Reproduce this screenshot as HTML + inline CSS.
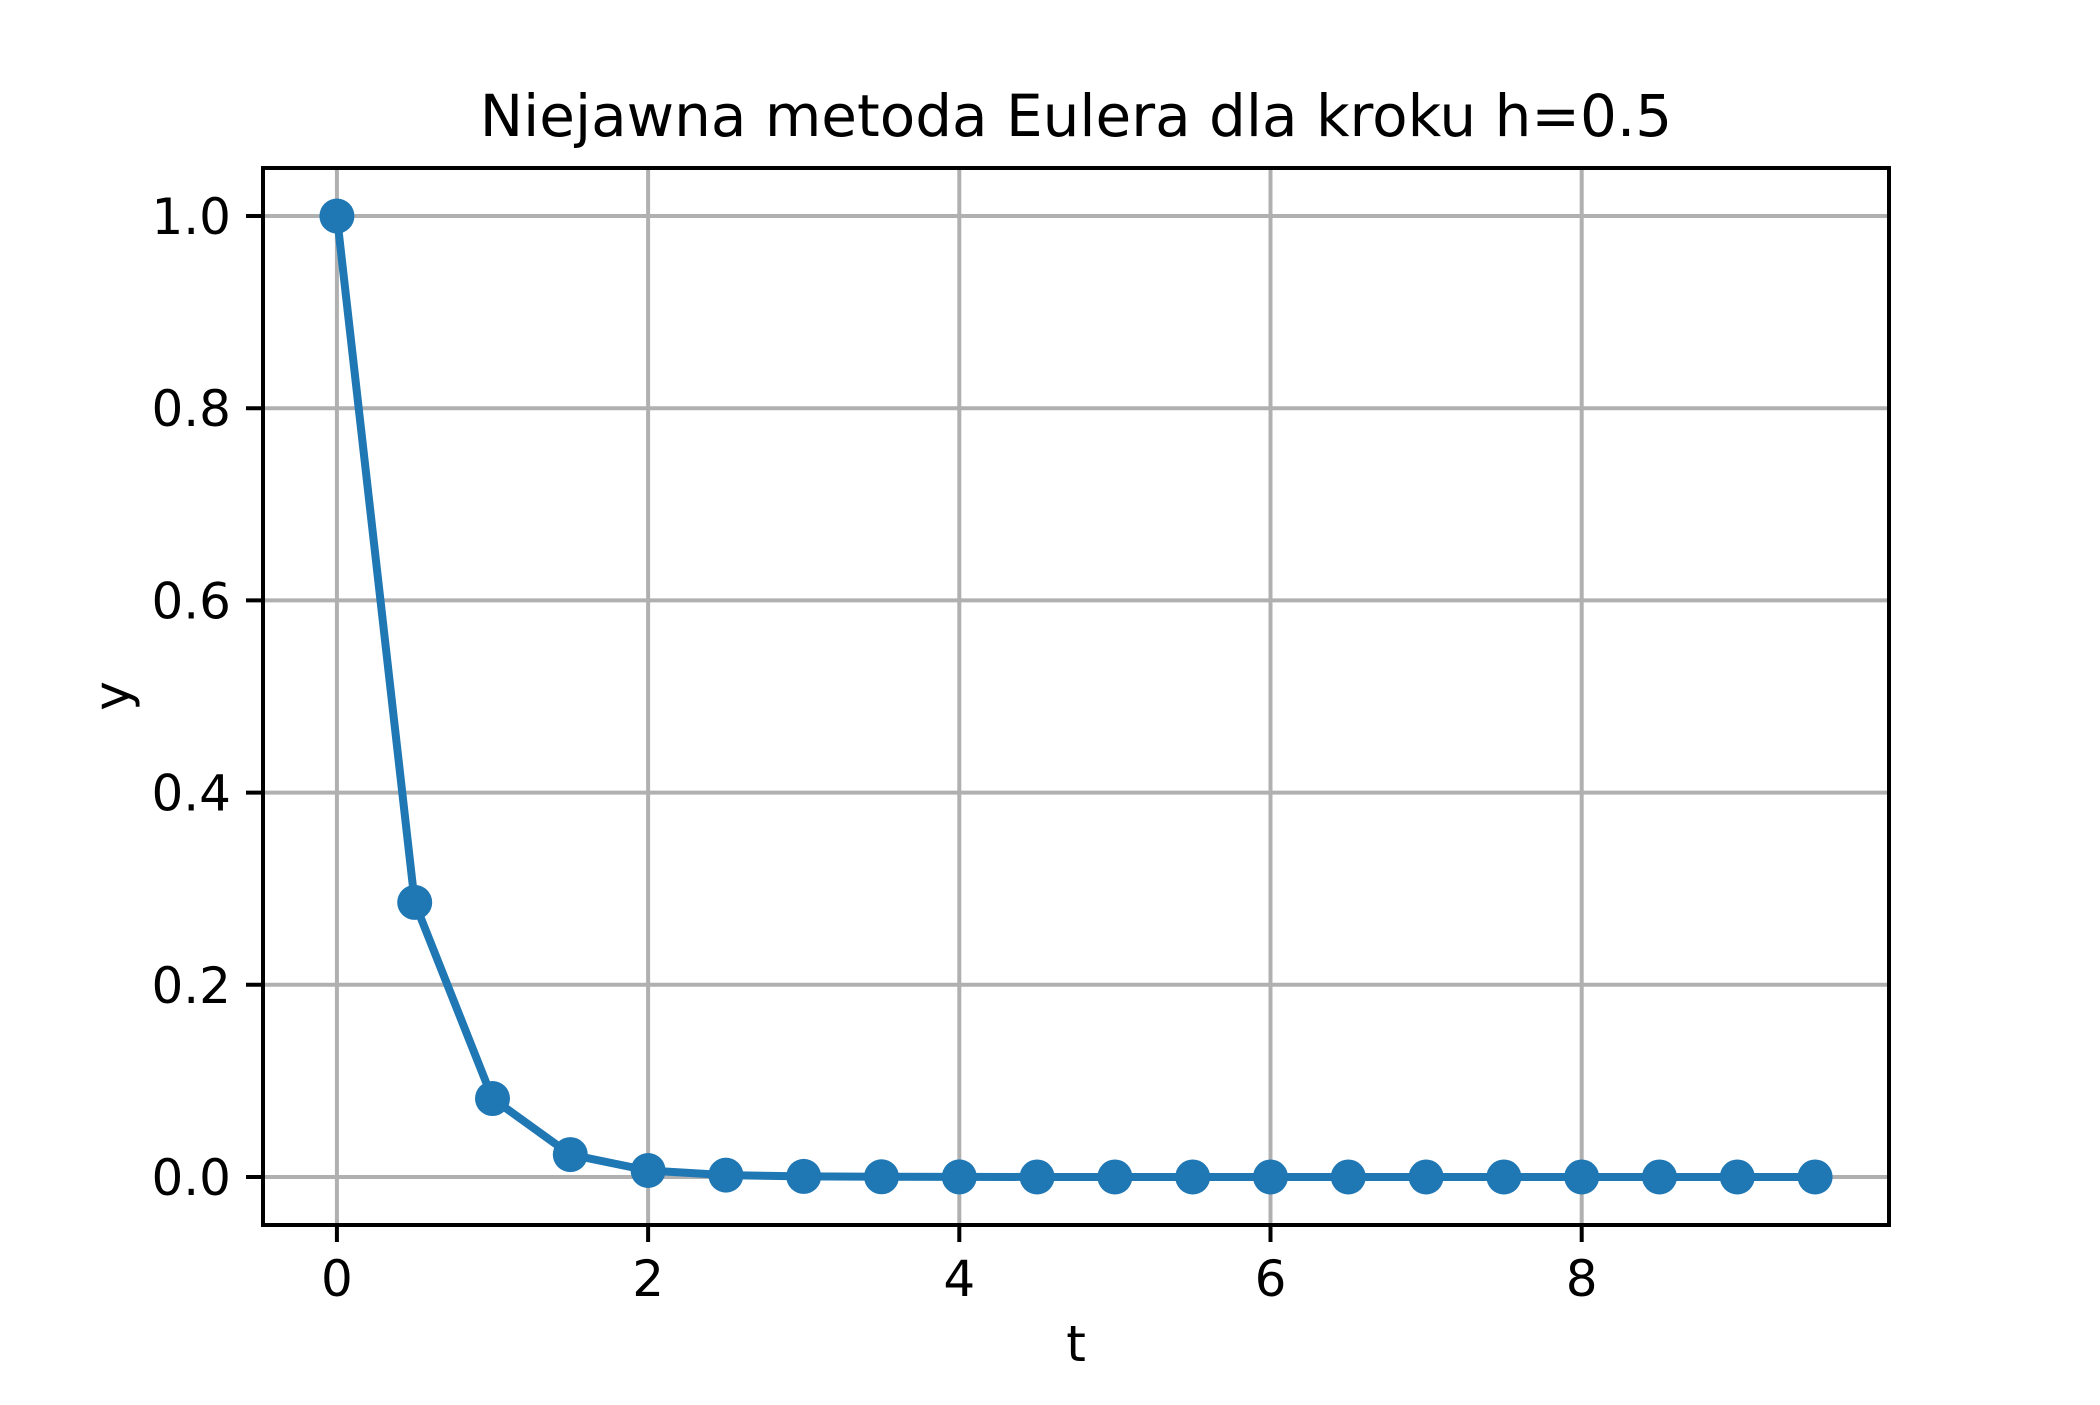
<!DOCTYPE html>
<html><head><meta charset="utf-8"><style>
html,body{margin:0;padding:0;background:#fff;}
svg text{font-family:"DejaVu Sans","Liberation Sans",sans-serif;fill:#000;}
</style></head><body>
<svg id="chart" width="2100" height="1400" xmlns="http://www.w3.org/2000/svg">
<rect width="2100" height="1400" fill="#fff"/>
<g id="grid"></g>
<g id="series"></g>
<rect x="263" y="168" width="1626" height="1057" fill="none" stroke="#000" stroke-width="4"/>
<g id="ticks"></g>
<text x="1076" y="136" font-size="58" text-anchor="middle">Niejawna metoda Eulera dla kroku h=0.5</text>
<text x="1076" y="1361" font-size="50" text-anchor="middle">t</text>
<text x="0" y="0" font-size="50" text-anchor="middle" transform="translate(129,696) rotate(-90)">y</text>
</svg>
<script>
const tValues = [0,0.5,1,1.5,2,2.5,3,3.5,4,4.5,5,5.5,6,6.5,7,7.5,8,8.5,9,9.5];
const yValues = [1,0.2857,0.0816,0.0233,0.0067,0.0019,0.00054,0.00016,0.00004,0.00001,0,0,0,0,0,0,0,0,0,0];
const xTicks = [0,2,4,6,8];
const yTicks = [0,0.2,0.4,0.6,0.8,1.0];
const yTickLabels = ["0.0","0.2","0.4","0.6","0.8","1.0"];

const L=263,R=1889,T=168,B=1225;
const xmin=-0.475,xmax=9.975,ymin=-0.05,ymax=1.05;
const sx=v=>L+(v-xmin)/(xmax-xmin)*(R-L);
const sy=v=>B-(v-ymin)/(ymax-ymin)*(B-T);
const NS="http://www.w3.org/2000/svg";
function mk(tag,attrs,parent){const e=document.createElementNS(NS,tag);for(const k in attrs)e.setAttribute(k,attrs[k]);parent.appendChild(e);return e;}
const grid=document.getElementById('grid'),ticks=document.getElementById('ticks'),series=document.getElementById('series');
xTicks.forEach(v=>{
  const x=sx(v);
  const g=mk('line',{x1:x,x2:x,y1:T,y2:B,stroke:'#b0b0b0','stroke-width':4},grid);
  
  
  const t=mk('line',{x1:x,x2:x,y1:B,y2:B+17,stroke:'#000','stroke-width':4},ticks);
  
  
  const l=mk('text',{x:x,y:B+71,'font-size':50,'text-anchor':'middle'},ticks);
  l.textContent=String(v);
  
  
});
yTicks.forEach((v,i)=>{
  const y=sy(v);
  const g=mk('line',{x1:L,x2:R,y1:y,y2:y,stroke:'#b0b0b0','stroke-width':4},grid);
  
  
  const t=mk('line',{x1:L-17,x2:L,y1:y,y2:y,stroke:'#000','stroke-width':4},ticks);
  
  
  const l=mk('text',{x:L-32,y:y+18,'font-size':50,'text-anchor':'end'},ticks);
  l.textContent=yTickLabels[i];
  
  
});
const pts=tValues.map((t,i)=>sx(t)+','+sy(yValues[i])).join(' ');
const line=mk('polyline',{points:pts,fill:'none',stroke:'#1f77b4','stroke-width':8,'stroke-linejoin':'round'},series);


tValues.forEach((t,i)=>{
  const c=mk('circle',{cx:sx(t),cy:sy(yValues[i]),r:17.5,fill:'#1f77b4'},series);
  
  
});
</script>
</body></html>
